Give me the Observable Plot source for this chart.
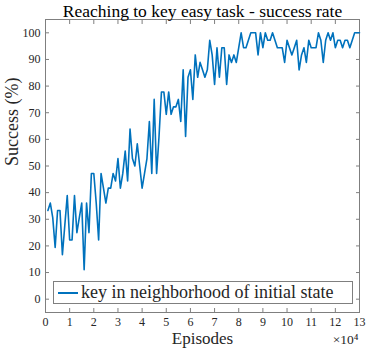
<!DOCTYPE html>
<html><head><meta charset="utf-8">
<script src="https://cdn.jsdelivr.net/npm/d3@7"></script>
<script src="https://cdn.jsdelivr.net/npm/@observablehq/plot@0.6"></script>
<style>
body{margin:0;background:#fff;}
#wrap{position:relative;width:366px;height:352px;}
#legend{position:absolute;left:53px;top:281px;width:300px;height:23px;border:1px solid #7f7f7f;background:#fff;font-family:"Liberation Serif",serif;font-size:18px;color:#262626;display:flex;align-items:center;box-sizing:border-box;white-space:nowrap;overflow:hidden}
#legend .sw{display:inline-block;width:20px;height:0;border-top:2px solid #0072BD;margin-left:4px;margin-right:3px}
</style></head>
<body><div id="wrap"></div>
<script>
const title = "Reaching to key easy task - success rate";
const xLabel = "Episodes";
const yLabel = "Success (%)";
const xExponent = "×10⁴";
const seriesName = "key in neighborhood of initial state";
const xTicks = [0,1,2,3,4,5,6,7,8,9,10,11,12,13];
const yTicks = [0,10,20,30,40,50,60,70,80,90,100];
// episodes in thousands
const episodes = [1,2,3,4,5,6,7,8,9,10,11,12,13,14,15,16,17,18,19,20,
21,22,23,24,25,26,27,28,29,30,31,32,33,34,35,36,37,38,39,40,
41,42,43,44,45,46,47,48,49,50,51,52,53,54,55,56,57,58,59,60,
61,62,63,64,65,66,67,68,69,70,71,72,73,74,75,76,77,78,79,80,
81,82,83,84,85,86,87,88,89,90,91,92,93,94,95,96,97,98,99,100,
101,102,103,104,105,106,107,108,109,110,111,112,113,114,115,116,117,118,119,120,
121,122,123,124,125,126,127,128,129,130];
const success = [33.3,36.1,30.6,19.4,33.3,33.3,16.7,27.8,38.9,22.2,22.2,38.9,25,30.6,36.1,11.1,36.1,25,47.2,47.2,
36.1,22.2,47.2,41.7,36.1,41.7,41.7,47.2,44.4,52.8,41.7,47.2,55.6,44.4,63.9,52.8,50,58.3,50,41.7,
47.2,52.8,66.7,47.2,75,47.2,61.1,77.8,77.8,69.4,77.8,69.4,72.2,72.2,75,66.7,86.1,61.1,83.3,86.1,
75,91.7,83.3,88.9,86.1,83.3,86.1,97.2,91.7,80.6,94.4,83.3,94.4,94.4,80.6,91.7,88.9,91.7,88.9,94.4,
100,94.4,94.4,97.2,100,100,100,91.7,100,94.4,100,97.2,97.2,100,97.2,94.4,94.4,94.4,88.9,97.2,
94.4,91.7,94.4,97.2,86.1,91.7,94.4,88.9,97.2,94.4,94.4,94.4,100,97.2,88.9,97.2,100,97.2,100,94.4,
97.2,97.2,94.4,97.2,97.2,94.4,97.2,100,100,100];

const data = episodes.map((e, i) => ({x: e / 10, y: success[i]}));
const axisGray = "#7f7f7f";
const textCol = "#262626";

const chart = Plot.plot({
  width: 366, height: 352,
  marginTop: 19, marginLeft: 45, marginRight: 7, marginBottom: 40,
  style: {fontFamily: "'Liberation Serif', serif", fontSize: "12px", color: textCol, background: "#fff"},
  x: {domain: [0, 13]},
  y: {domain: [-5, 105]},
  marks: [
    Plot.frame({stroke: axisGray}),
    Plot.axisX({anchor: "bottom", ticks: xTicks, tickSize: -4, tickPadding: 9, label: null, stroke: axisGray, fill: textCol, fontSize: 12}),
    Plot.axisX({anchor: "top", ticks: xTicks, tickSize: -4, tickFormat: () => "", label: null, stroke: axisGray}),
    Plot.axisY({anchor: "left", ticks: yTicks, tickSize: -4, tickPadding: 9, label: null, stroke: axisGray, fill: textCol, fontSize: 12}),
    Plot.axisY({anchor: "right", ticks: yTicks, tickSize: -4, tickFormat: () => "", label: null, stroke: axisGray}),
    Plot.line(data, {x: "x", y: "y", stroke: "#0072BD", strokeWidth: 1.6}),
    Plot.text([title], {frameAnchor: "top", dy: -3, lineAnchor: "bottom", fontSize: 17.5, fill: "#000"}),
    Plot.text([xLabel], {frameAnchor: "bottom", dy: 31, fontSize: 17, fill: textCol}),
    Plot.text([xExponent], {frameAnchor: "bottom-right", dy: 31, dx: -1, textAnchor: "end", fontSize: 13.5, fill: textCol}),
    Plot.text([yLabel], {frameAnchor: "left", dx: -33, rotate: -90, fontSize: 18, fill: textCol})
  ]
});
const wrap = document.getElementById("wrap");
wrap.appendChild(chart);
const lg = document.createElement("div");
lg.id = "legend";
lg.innerHTML = '<span class="sw"></span><span></span>';
lg.lastChild.textContent = seriesName;
wrap.appendChild(lg);
</script>
</body></html>
